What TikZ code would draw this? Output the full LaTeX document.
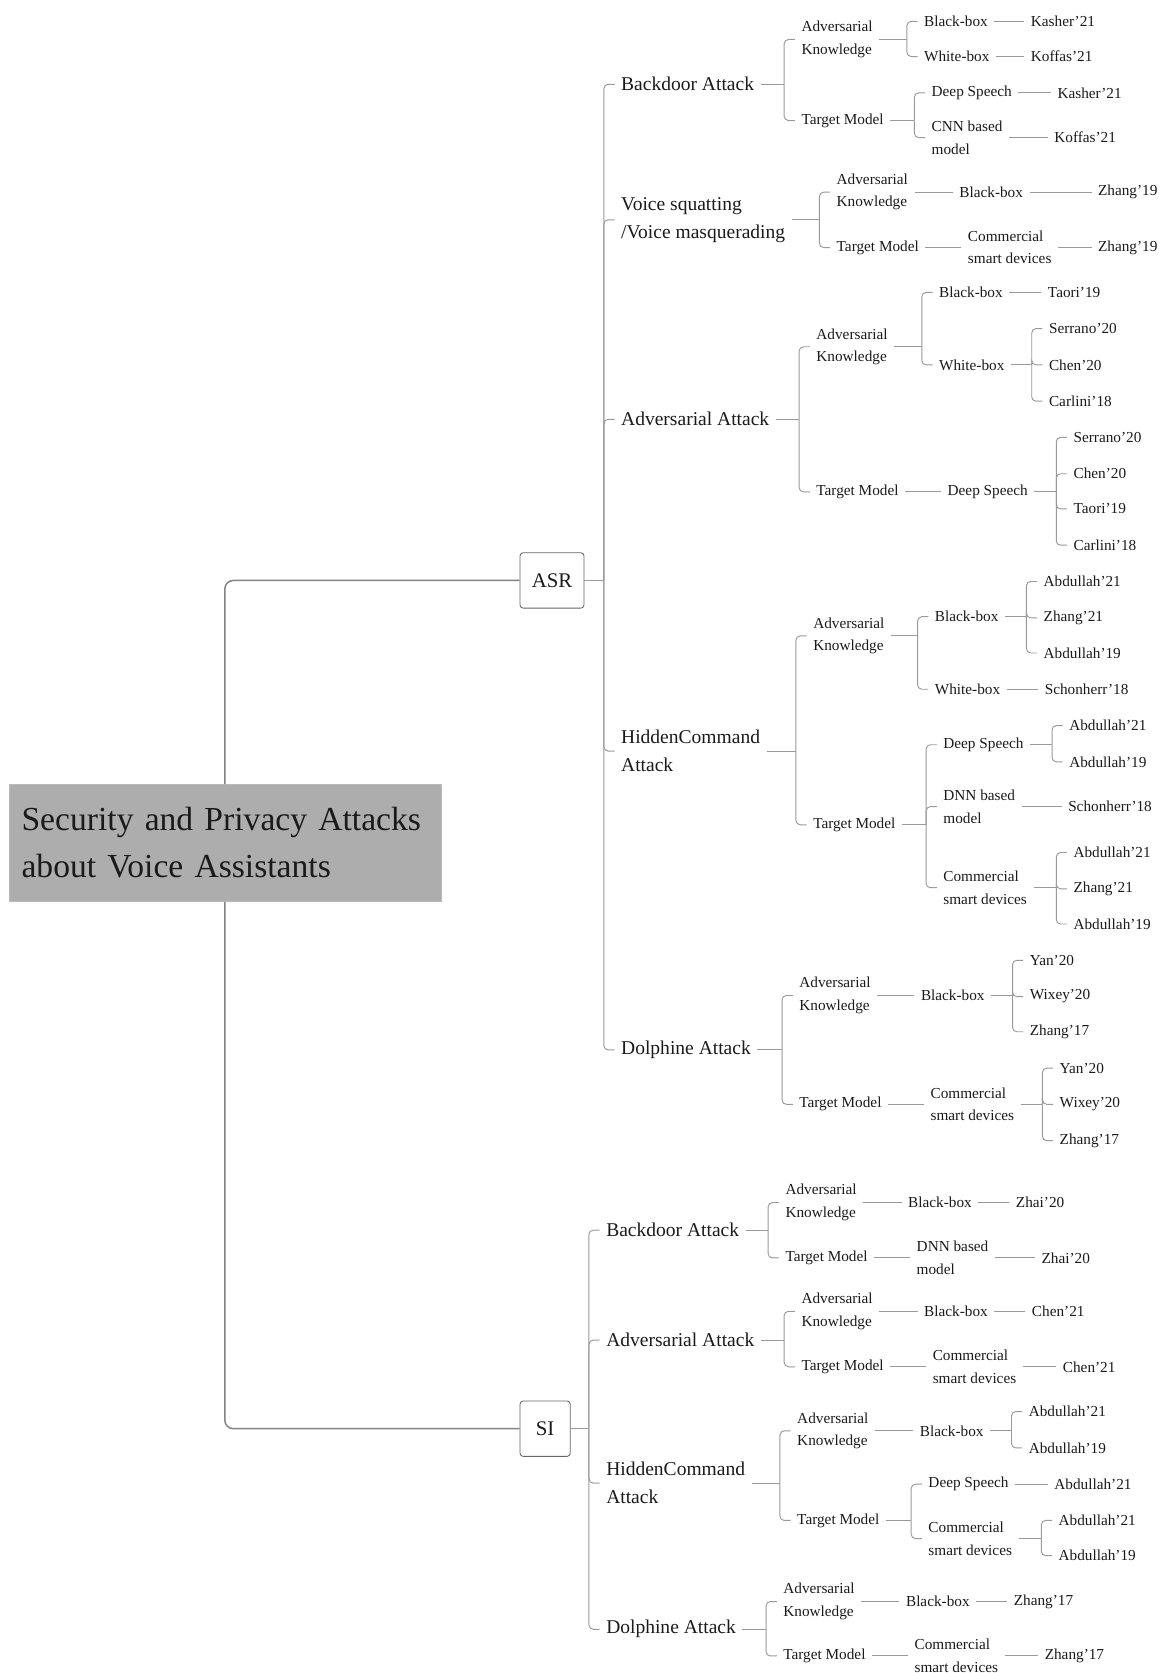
\documentclass[tikz,border=0pt]{standalone}
\usepackage{fontspec}
\setmainfont{Liberation Serif}
\usepackage{tikz}
\usepackage{xcolor}

\definecolor{linegray}{HTML}{9A9A9A}
\definecolor{rootgray}{HTML}{ADADAD}
\definecolor{inkgray}{HTML}{1A1A1A}

\tikzset{
  branch/.style={draw=linegray, line width=0.9pt},
  trunk/.style={draw=linegray!85!black, line width=1.4pt, rounded corners=8pt},
  twig/.style={anchor=west, xshift=-6pt, inner xsep=6pt, inner ysep=2pt, align=left,
    text=inkgray, font=\fontsize{14.3}{21}\selectfont},
  topic/.style={twig, font=\fontsize{18.3}{26}\selectfont},
  catbox/.style={anchor=west, draw=gray!80!black, line width=0.8pt, rounded corners=3pt,
    fill=white, minimum height=52pt, minimum width=47pt, inner xsep=11pt,
    text=inkgray, font=\fontsize{19.5}{22}\selectfont},
  rootbox/.style={anchor=west, fill=rootgray, draw=rootgray!85!white, minimum width=405pt,
    minimum height=110pt, text width=381pt, inner xsep=12pt, align=left,
    text=inkgray, font=\fontsize{31.5}{44}\selectfont}
}

% parent -> several children: stub to the bar, then bar to child
\newcommand{\branchto}[2]{%
  \path ([xshift=-10pt]#2.west) coordinate (bar);
  \draw[branch] (#1.east) -- (bar |- #1.east);
  \draw[branch, rounded corners=4pt] (bar |- #1.east) |- (#2.west);}
% parent -> one child: straight line
\newcommand{\lineto}[2]{\draw[branch] (#1.east) -- (#2.west);}

\begin{document}
\begin{tikzpicture}[x=1pt, y=-1pt]
\useasboundingbox (0,0) rectangle (1091,1568);

\node[rootbox] (root) at (8,790) {Security and Privacy Attacks\\about Voice Assistants};
\node[catbox] (asr) at (487,544) {ASR};
\node[catbox] (si) at (487,1339) {SI};
\draw[trunk] (root.north) |- (asr.west);
\draw[trunk] (root.south) |- (si.west);

% ASR
\node[topic] (a1) at (582,79) {Backdoor Attack};
\node[topic] (a2) at (582,206) {Voice squatting\\/Voice masquerading};
\node[topic] (a3) at (582,393) {Adversarial Attack};
\node[topic] (a4) at (582,704) {HiddenCommand\\Attack};
\node[topic] (a5) at (582,984) {Dolphine Attack};

\node[twig] (a1k) at (751,37) {Adversarial\\Knowledge};
\node[twig] (a1kb) at (866,20) {Black-box};
\node[twig] (a1kbr) at (966,20) {Kasher'21};
\node[twig] (a1kw) at (866,53) {White-box};
\node[twig] (a1kwr) at (966,53) {Koffas'21};
\node[twig] (a1t) at (751,113) {Target Model};
\node[twig] (a1td) at (873,87) {Deep Speech};
\node[twig] (a1tdr) at (991,87) {Kasher'21};
\node[twig] (a1tc) at (873,129) {CNN based\\model};
\node[twig] (a1tcr) at (988,129) {Koffas'21};

\node[twig] (a2k) at (784,180) {Adversarial\\Knowledge};
\node[twig] (a2kb) at (899,180) {Black-box};
\node[twig] (a2kbr) at (1029,180) {Zhang'19};
\node[twig] (a2t) at (784,232) {Target Model};
\node[twig] (a2tc) at (907,232) {Commercial\\smart devices};
\node[twig] (a2tcr) at (1029,232) {Zhang'19};

\node[twig] (a3k) at (765,325) {Adversarial\\Knowledge};
\node[twig] (a3kb) at (880,274) {Black-box};
\node[twig] (a3kbr) at (982,274) {Taori'19};
\node[twig] (a3kw) at (880,342) {White-box};
\node[twig] (a3kw1) at (983,308) {Serrano'20};
\node[twig] (a3kw2) at (983,342) {Chen'20};
\node[twig] (a3kw3) at (983,376) {Carlini'18};
\node[twig] (a3t) at (765,461) {Target Model};
\node[twig] (a3td) at (888,461) {Deep Speech};
\node[twig] (a3td1) at (1006,410) {Serrano'20};
\node[twig] (a3td2) at (1006,444) {Chen'20};
\node[twig] (a3td3) at (1006,477) {Taori'19};
\node[twig] (a3td4) at (1006,511) {Carlini'18};

\node[twig] (a4k) at (762,596) {Adversarial\\Knowledge};
\node[twig] (a4kb) at (876,578) {Black-box};
\node[twig] (a4kb1) at (978,545) {Abdullah'21};
\node[twig] (a4kb2) at (978,579) {Zhang'21};
\node[twig] (a4kb3) at (978,612) {Abdullah'19};
\node[twig] (a4kw) at (876,646) {White-box};
\node[twig] (a4kwr) at (979,646) {Schonherr'18};
\node[twig] (a4t) at (762,773) {Target Model};
\node[twig] (a4td) at (884,698) {Deep Speech};
\node[twig] (a4td1) at (1002,680) {Abdullah'21};
\node[twig] (a4td2) at (1002,714) {Abdullah'19};
\node[twig] (a4tn) at (884,756) {DNN based\\model};
\node[twig] (a4tnr) at (1001,756) {Schonherr'18};
\node[twig] (a4tc) at (884,832) {Commercial\\smart devices};
\node[twig] (a4tc1) at (1006,799) {Abdullah'21};
\node[twig] (a4tc2) at (1006,833) {Zhang'21};
\node[twig] (a4tc3) at (1006,866) {Abdullah'19};

\node[twig] (a5k) at (749,933) {Adversarial\\Knowledge};
\node[twig] (a5kb) at (863,933) {Black-box};
\node[twig] (a5kb1) at (965,900) {Yan'20};
\node[twig] (a5kb2) at (965,934) {Wixey'20};
\node[twig] (a5kb3) at (965,967) {Zhang'17};
\node[twig] (a5t) at (749,1035) {Target Model};
\node[twig] (a5tc) at (872,1035) {Commercial\\smart devices};
\node[twig] (a5tc1) at (993,1001) {Yan'20};
\node[twig] (a5tc2) at (993,1035) {Wixey'20};
\node[twig] (a5tc3) at (993,1069) {Zhang'17};

% SI
\node[topic] (s1) at (568,1153) {Backdoor Attack};
\node[topic] (s2) at (568,1256) {Adversarial Attack};
\node[topic] (s3) at (568,1390) {HiddenCommand\\Attack};
\node[topic] (s4) at (568,1527) {Dolphine Attack};

\node[twig] (s1k) at (736,1127) {Adversarial\\Knowledge};
\node[twig] (s1kb) at (851,1127) {Black-box};
\node[twig] (s1kbr) at (952,1127) {Zhai'20};
\node[twig] (s1t) at (736,1179) {Target Model};
\node[twig] (s1tn) at (859,1179) {DNN based\\model};
\node[twig] (s1tnr) at (976,1179) {Zhai'20};

\node[twig] (s2k) at (751,1229) {Adversarial\\Knowledge};
\node[twig] (s2kb) at (866,1229) {Black-box};
\node[twig] (s2kbr) at (967,1229) {Chen'21};
\node[twig] (s2t) at (751,1281) {Target Model};
\node[twig] (s2tc) at (874,1281) {Commercial\\smart devices};
\node[twig] (s2tcr) at (996,1281) {Chen'21};

\node[twig] (s3k) at (747,1341) {Adversarial\\Knowledge};
\node[twig] (s3kb) at (862,1341) {Black-box};
\node[twig] (s3kb1) at (964,1323) {Abdullah'21};
\node[twig] (s3kb2) at (964,1357) {Abdullah'19};
\node[twig] (s3t) at (747,1425) {Target Model};
\node[twig] (s3td) at (870,1391) {Deep Speech};
\node[twig] (s3tdr) at (988,1391) {Abdullah'21};
\node[twig] (s3tc) at (870,1442) {Commercial\\smart devices};
\node[twig] (s3tc1) at (992,1425) {Abdullah'21};
\node[twig] (s3tc2) at (992,1458) {Abdullah'19};

\node[twig] (s4k) at (734,1501) {Adversarial\\Knowledge};
\node[twig] (s4kb) at (849,1501) {Black-box};
\node[twig] (s4kbr) at (950,1501) {Zhang'17};
\node[twig] (s4t) at (734,1552) {Target Model};
\node[twig] (s4tc) at (857,1552) {Commercial\\smart devices};
\node[twig] (s4tcr) at (979,1552) {Zhang'17};

% connectors with a bar
\foreach \p/\c in {asr/a1, asr/a2, asr/a3, asr/a4, asr/a5,
    a1/a1k, a1/a1t, a1k/a1kb, a1k/a1kw, a1t/a1td, a1t/a1tc,
    a2/a2k, a2/a2t,
    a3/a3k, a3/a3t, a3k/a3kb, a3k/a3kw, a3kw/a3kw1, a3kw/a3kw2, a3kw/a3kw3,
    a3td/a3td1, a3td/a3td2, a3td/a3td3, a3td/a3td4,
    a4/a4k, a4/a4t, a4k/a4kb, a4k/a4kw, a4kb/a4kb1, a4kb/a4kb2, a4kb/a4kb3,
    a4t/a4td, a4t/a4tn, a4t/a4tc, a4td/a4td1, a4td/a4td2,
    a4tc/a4tc1, a4tc/a4tc2, a4tc/a4tc3,
    a5/a5k, a5/a5t, a5kb/a5kb1, a5kb/a5kb2, a5kb/a5kb3,
    a5tc/a5tc1, a5tc/a5tc2, a5tc/a5tc3,
    si/s1, si/s2, si/s3, si/s4,
    s1/s1k, s1/s1t, s2/s2k, s2/s2t,
    s3/s3k, s3/s3t, s3kb/s3kb1, s3kb/s3kb2, s3t/s3td, s3t/s3tc, s3tc/s3tc1, s3tc/s3tc2,
    s4/s4k, s4/s4t}
  {\branchto{\p}{\c}}

% straight connectors
\foreach \p/\c in {a1kb/a1kbr, a1kw/a1kwr, a1td/a1tdr, a1tc/a1tcr,
    a2k/a2kb, a2kb/a2kbr, a2t/a2tc, a2tc/a2tcr,
    a3kb/a3kbr, a3t/a3td, a4kw/a4kwr, a4tn/a4tnr, a5k/a5kb, a5t/a5tc,
    s1k/s1kb, s1kb/s1kbr, s1t/s1tn, s1tn/s1tnr,
    s2k/s2kb, s2kb/s2kbr, s2t/s2tc, s2tc/s2tcr,
    s3k/s3kb, s3td/s3tdr, s4k/s4kb, s4kb/s4kbr, s4t/s4tc, s4tc/s4tcr}
  {\lineto{\p}{\c}}

\end{tikzpicture}
\end{document}
